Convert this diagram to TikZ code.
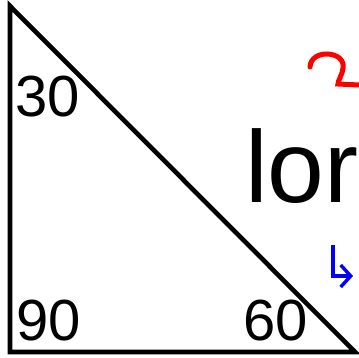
\documentclass[tikz,border=0pt]{standalone}
\usepackage{fontspec}
\setmainfont{Liberation Sans}
\usepackage{xcolor}
\usetikzlibrary{arrows.meta,positioning}

\begin{document}
\begin{tikzpicture}[x=1pt,y=-1pt,>={Straight Barb[length=10pt,width=22pt,line width=3.4pt]}]
  \tikzstyle{edge}=[line width=4.6pt,line join=miter]
  \tikzstyle{angle}=[inner sep=0pt,anchor=base west,font=\fontsize{58}{60}\selectfont]
  \tikzstyle{word}=[inner sep=0pt,anchor=base west,font=\fontsize{102}{104}\selectfont]
  \useasboundingbox (0,0) rectangle (359,358);
  \clip (0,0) rectangle (359,358);

  % Corners
  \coordinate (top) at (10,6);
  \coordinate (left) at (10,352);
  \coordinate (right) at (355,352);

  % Triangle
  \draw [edge] (top) -- (left) -- (right) -- cycle;

  % Angles
  \node [angle] (a30) at (15.5,117) {30};
  \node [angle] (a90) at (16,340) {90};
  \node [angle] (a60) at (243,340) {60};

  % Word
  \node [word] (lor) at (245,203) {lor};

  % Marks
  \coordinate (s1) at (310,67);
  \coordinate (s2) at (338,84);
  \coordinate (s3) at (359,85);
  \draw [red,line width=5pt,line cap=round] (s1) .. controls (311,48) and (346,51) .. (343,68)
    .. controls (342,76) and (338,80) .. (s2) -- (s3);
  \coordinate (b1) at (333,245);
  \coordinate (b2) at (333,276);
  \coordinate (b3) at (353,276);
  \draw [->,blue,line width=3.6pt] (b1) -- (b2) -- (b3);
\end{tikzpicture}
\end{document}
